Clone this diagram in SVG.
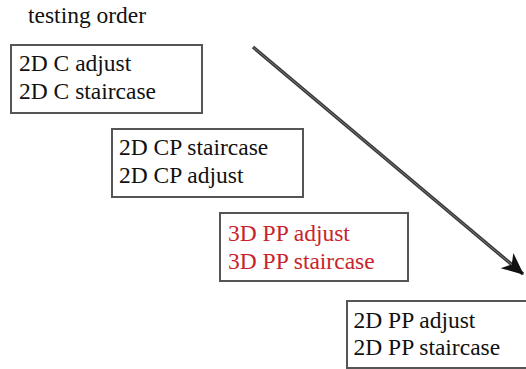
<svg xmlns="http://www.w3.org/2000/svg" width="526" height="369" viewBox="0 0 526 369">
<style>
.box{fill:#fff;stroke:#555;stroke-width:2}
</style>
<defs>
<marker id="ah" viewBox="0 0 10 10" refX="9.5" refY="5" markerWidth="22" markerHeight="22" orient="auto" markerUnits="userSpaceOnUse">
<path d="M0,0.5 L10,5 L0,9.5 L2.8,5 Z" fill="#111"/>
</marker>
</defs>
<rect width="526" height="369" fill="#fff"/>
<text x="28" y="23" style="font-family:'Liberation Serif',serif;font-size:23.5px;fill:#111">testing order</text>
<g id="connectors">
<line x1="253" y1="47" x2="523" y2="274" stroke="#3a3a3a" stroke-width="3.5" marker-end="url(#ah)"/>
<line x1="253.5" y1="47.5" x2="512" y2="264.8" stroke="#888" stroke-width="0.8"/>
</g>
<g id="n1">
<rect class="box" x="11" y="45" width="191" height="68"/>
<text x="19" y="71" style="font-family:'Liberation Serif',serif;font-size:23.5px;fill:#111">2D C adjust</text>
<text x="19" y="98.5" style="font-family:'Liberation Serif',serif;font-size:23.5px;fill:#111">2D C staircase</text>
</g>
<g id="n2">
<rect class="box" x="112" y="129" width="191" height="68"/>
<text x="119" y="154.5" style="font-family:'Liberation Serif',serif;font-size:23.5px;fill:#111">2D CP staircase</text>
<text x="119" y="182.5" style="font-family:'Liberation Serif',serif;font-size:23.5px;fill:#111">2D CP adjust</text>
</g>
<g id="n3">
<rect class="box" x="220" y="213" width="188" height="68"/>
<text x="228" y="240.5" style="font-family:'Liberation Serif',serif;font-size:23.5px;fill:#c8232c">3D PP adjust</text>
<text x="228" y="268.5" style="font-family:'Liberation Serif',serif;font-size:23.5px;fill:#c8232c">3D PP staircase</text>
</g>
<g id="n4">
<rect class="box" x="347" y="301" width="185" height="67"/>
<text x="353.5" y="328" style="font-family:'Liberation Serif',serif;font-size:23.5px;fill:#111">2D PP adjust</text>
<text x="353.5" y="355" style="font-family:'Liberation Serif',serif;font-size:23.5px;fill:#111">2D PP staircase</text>
</g>
</svg>
